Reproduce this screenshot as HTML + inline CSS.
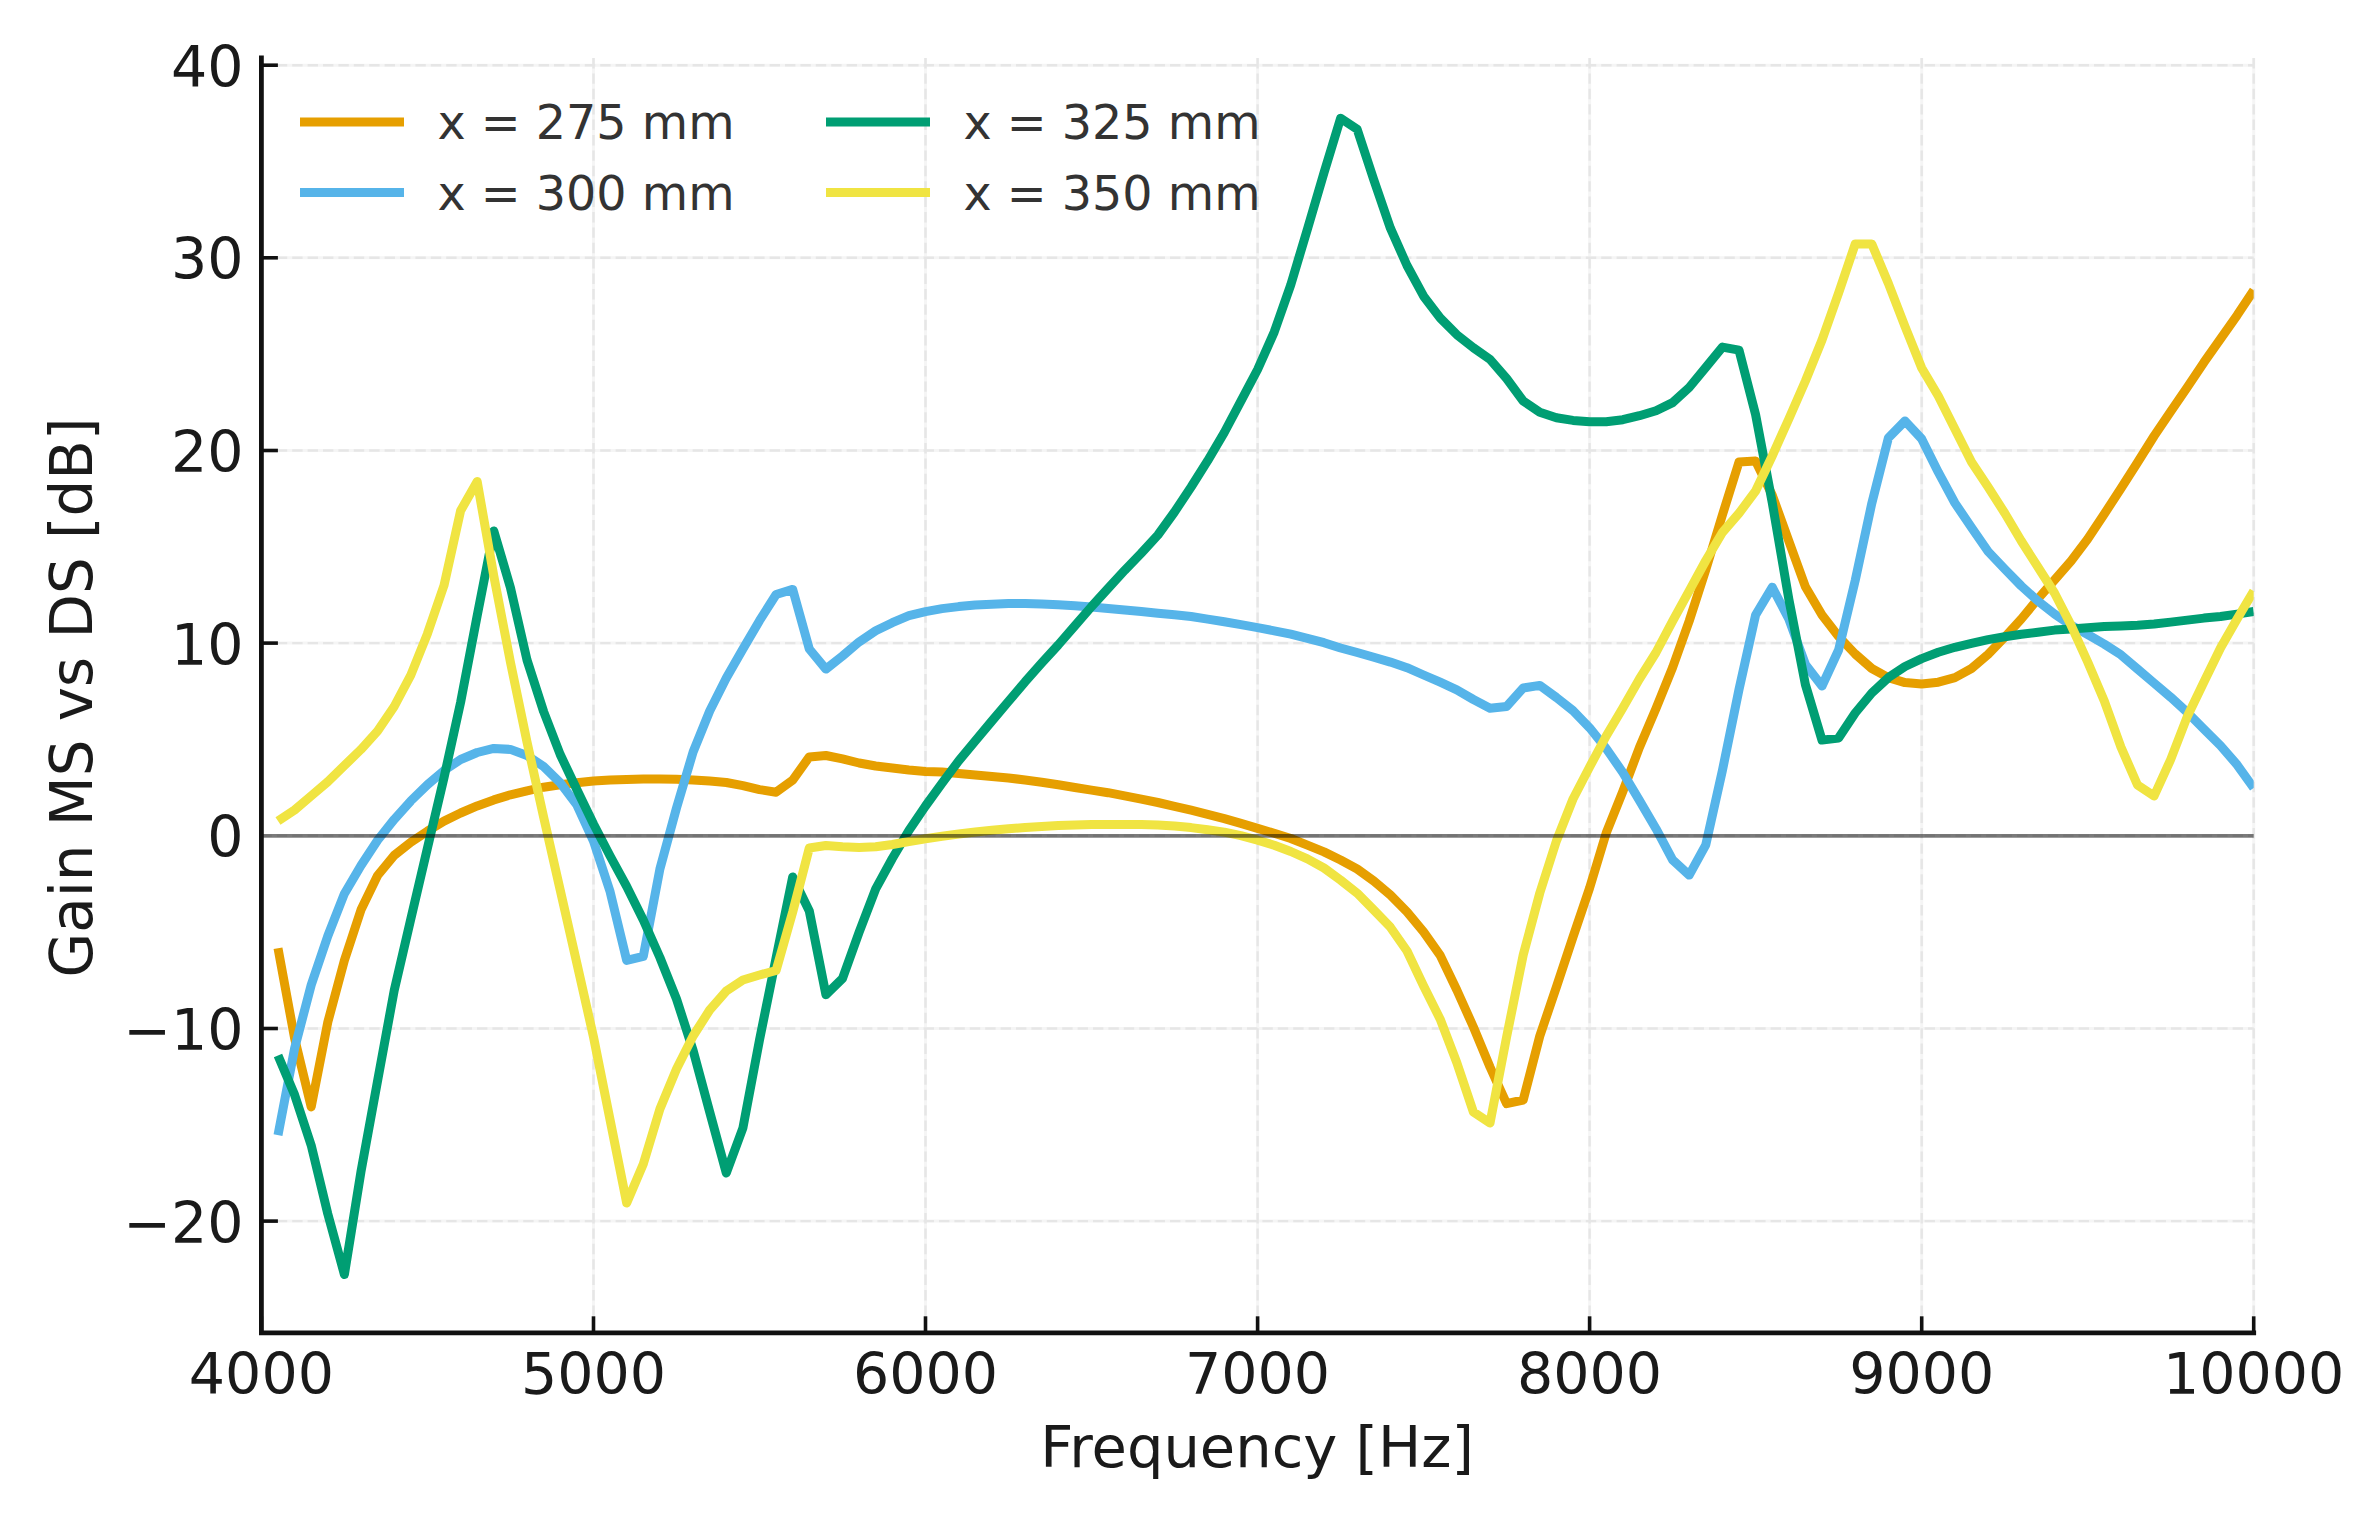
<!DOCTYPE html>
<html><head><meta charset="utf-8"><title>Gain MS vs DS</title>
<style>html,body{margin:0;padding:0;background:#fff}body{width:2379px;height:1519px;overflow:hidden}</style>
</head><body>
<svg xmlns="http://www.w3.org/2000/svg" width="2379" height="1519" viewBox="0 0 2379 1519" style="display:block">
<rect width="2379" height="1519" fill="#fff"/>
<g stroke="#f5f5f5" stroke-width="3" fill="none"><line x1="593.5" y1="58" x2="593.5" y2="1332.8"/><line x1="925.5" y1="58" x2="925.5" y2="1332.8"/><line x1="1257.6" y1="58" x2="1257.6" y2="1332.8"/><line x1="1589.6" y1="58" x2="1589.6" y2="1332.8"/><line x1="1921.7" y1="58" x2="1921.7" y2="1332.8"/><line x1="2253.7" y1="58" x2="2253.7" y2="1332.8"/><line x1="261.4" y1="1221.1" x2="2253.7" y2="1221.1"/><line x1="261.4" y1="1028.5" x2="2253.7" y2="1028.5"/><line x1="261.4" y1="835.8" x2="2253.7" y2="835.8"/><line x1="261.4" y1="643.1" x2="2253.7" y2="643.1"/><line x1="261.4" y1="450.5" x2="2253.7" y2="450.5"/><line x1="261.4" y1="257.8" x2="2253.7" y2="257.8"/><line x1="261.4" y1="65.2" x2="2253.7" y2="65.2"/></g>
<g stroke="#e6e6e6" stroke-width="2.4" stroke-dasharray="10.4 5" fill="none"><line x1="593.5" y1="58" x2="593.5" y2="1332.8"/><line x1="925.5" y1="58" x2="925.5" y2="1332.8"/><line x1="1257.6" y1="58" x2="1257.6" y2="1332.8"/><line x1="1589.6" y1="58" x2="1589.6" y2="1332.8"/><line x1="1921.7" y1="58" x2="1921.7" y2="1332.8"/><line x1="2253.7" y1="58" x2="2253.7" y2="1332.8"/><line x1="261.4" y1="1221.1" x2="2253.7" y2="1221.1"/><line x1="261.4" y1="1028.5" x2="2253.7" y2="1028.5"/><line x1="261.4" y1="835.8" x2="2253.7" y2="835.8"/><line x1="261.4" y1="643.1" x2="2253.7" y2="643.1"/><line x1="261.4" y1="450.5" x2="2253.7" y2="450.5"/><line x1="261.4" y1="257.8" x2="2253.7" y2="257.8"/><line x1="261.4" y1="65.2" x2="2253.7" y2="65.2"/></g>
<clipPath id="c"><rect x="261.4" y="58" width="1992.3" height="1274.8"/></clipPath>
<g clip-path="url(#c)" fill="none" stroke-width="9" stroke-linejoin="round" stroke-linecap="butt">
<polyline stroke="#E69F00" points="278.0,948.2 294.6,1038.3 311.2,1106.9 327.8,1022.2 344.4,960.3 361.0,909.8 377.6,875.5 394.2,855.4 410.8,842.3 427.4,831.2 444.0,821.1 460.6,813.0 477.2,805.9 493.8,799.9 510.4,794.8 527.0,790.8 543.6,787.2 560.2,784.7 576.8,782.7 593.5,781.1 610.1,780.1 626.7,779.5 643.3,779.1 659.9,779.1 676.5,779.3 693.1,779.9 709.7,781.1 726.3,782.5 742.9,785.6 759.5,789.6 776.1,792.2 792.7,780.1 809.3,756.9 825.9,755.5 842.5,758.9 859.1,763.0 875.7,766.0 892.3,768.0 908.9,770.0 925.5,771.6 942.1,772.0 958.7,773.5 975.3,775.0 991.9,776.5 1008.5,778.0 1025.1,780.0 1041.7,782.2 1058.3,784.8 1074.9,787.5 1091.5,790.1 1108.1,792.7 1124.7,795.9 1141.3,799.2 1157.9,802.5 1174.5,806.3 1191.1,810.2 1207.7,814.3 1224.3,818.6 1240.9,823.4 1257.6,828.4 1274.2,833.2 1290.8,838.5 1307.4,845.1 1324.0,851.9 1340.6,860.0 1357.2,869.0 1373.8,881.0 1390.4,895.0 1407.0,911.8 1423.6,931.8 1440.2,955.4 1456.8,990.0 1473.4,1027.0 1490.0,1067.0 1506.6,1103.6 1523.2,1100.0 1539.8,1036.0 1556.4,987.0 1573.0,937.0 1589.6,888.0 1606.2,833.0 1622.8,791.5 1639.4,747.5 1656.0,708.5 1672.6,667.5 1689.2,621.0 1705.8,569.6 1722.4,515.0 1739.0,462.0 1755.6,461.0 1772.2,495.0 1788.8,541.0 1805.4,586.8 1822.0,615.0 1838.6,636.5 1855.2,654.0 1871.8,668.5 1888.4,677.6 1905.0,682.6 1921.7,684.0 1938.3,682.2 1954.9,677.6 1971.5,668.5 1988.1,654.4 2004.7,637.2 2021.3,619.0 2037.9,598.9 2054.5,580.0 2071.1,561.0 2087.7,539.0 2104.3,514.0 2120.9,488.5 2137.5,462.5 2154.1,436.0 2170.7,411.4 2187.3,387.2 2203.9,362.4 2220.5,338.8 2237.1,315.3 2253.7,290.2"/>
<polyline stroke="#56B4E9" points="278.0,1135.2 294.6,1048.4 311.2,985.0 327.8,936.0 344.4,893.7 361.0,865.5 377.6,840.2 394.2,819.4 410.8,800.9 427.4,784.7 444.0,770.6 460.6,759.5 477.2,752.5 493.8,748.4 510.4,749.4 527.0,755.5 543.6,766.6 560.2,782.7 576.8,804.9 593.5,841.2 610.1,891.7 626.7,960.4 643.3,956.4 659.9,869.0 676.5,808.0 693.1,752.0 709.7,711.0 726.3,678.0 742.9,649.0 759.5,620.7 776.1,594.5 792.7,589.4 809.3,649.0 825.9,669.1 842.5,656.0 859.1,641.9 875.7,630.8 892.3,622.7 908.9,615.7 925.5,611.6 942.1,608.6 958.7,606.6 975.3,605.0 991.9,604.2 1008.5,603.6 1025.1,603.6 1041.7,604.0 1058.3,604.8 1074.9,605.8 1091.5,607.0 1108.1,608.4 1124.7,610.0 1141.3,611.6 1157.9,613.2 1174.5,614.8 1191.1,616.5 1207.7,619.1 1224.3,621.7 1240.9,624.6 1257.6,627.6 1274.2,630.8 1290.8,634.2 1307.4,638.3 1324.0,642.7 1340.6,648.0 1357.2,652.5 1373.8,657.3 1390.4,662.1 1407.0,667.7 1423.6,675.0 1440.2,682.2 1456.8,689.8 1473.4,699.5 1490.0,708.2 1506.6,706.6 1523.2,688.0 1539.8,685.4 1556.4,697.5 1573.0,710.6 1589.6,727.8 1606.2,748.5 1622.8,772.5 1639.4,800.4 1656.0,828.7 1672.6,859.9 1689.2,875.1 1705.8,844.8 1722.4,770.5 1739.0,689.5 1755.6,615.0 1772.2,587.2 1788.8,619.0 1805.4,664.4 1822.0,686.0 1838.6,650.0 1855.2,580.5 1871.8,503.3 1888.4,437.9 1905.0,421.0 1921.7,438.9 1938.3,472.2 1954.9,503.0 1971.5,527.5 1988.1,551.5 2004.7,569.0 2021.3,586.0 2037.9,601.0 2054.5,614.0 2071.1,625.2 2087.7,634.5 2104.3,644.1 2120.9,654.8 2137.5,669.0 2154.1,683.1 2170.7,697.2 2187.3,712.3 2203.9,729.1 2220.5,745.6 2237.1,764.8 2253.7,788.0"/>
<polyline stroke="#009E73" points="278.0,1055.5 294.6,1094.8 311.2,1145.3 327.8,1213.9 344.4,1274.5 361.0,1171.5 377.6,1080.7 394.2,990.5 410.8,918.9 427.4,848.3 444.0,777.7 460.6,702.4 477.2,615.6 493.8,530.9 510.4,587.4 527.0,660.0 543.6,711.5 560.2,754.5 576.8,789.5 593.5,824.0 610.1,856.0 626.7,886.5 643.3,920.0 659.9,957.5 676.5,999.0 693.1,1050.4 709.7,1112.0 726.3,1173.0 742.9,1128.0 759.5,1040.0 776.1,958.0 792.7,877.0 809.3,911.0 825.9,994.7 842.5,978.6 859.1,932.2 875.7,888.8 892.3,858.5 908.9,830.5 925.5,806.0 942.1,783.1 958.7,760.9 975.3,740.8 991.9,721.0 1008.5,701.4 1025.1,681.8 1041.7,663.1 1058.3,644.9 1074.9,625.8 1091.5,606.6 1108.1,588.4 1124.7,570.3 1141.3,553.1 1157.9,535.0 1174.5,512.0 1191.1,487.0 1207.7,460.7 1224.3,432.5 1240.9,401.2 1257.6,369.5 1274.2,332.1 1290.8,284.7 1307.4,229.2 1324.0,172.7 1340.6,118.2 1357.2,129.3 1373.8,179.8 1390.4,228.2 1407.0,265.5 1423.6,296.2 1440.2,318.0 1456.8,334.7 1473.4,347.7 1490.0,359.4 1506.6,378.5 1523.2,401.0 1539.8,412.3 1556.4,417.7 1573.0,420.4 1589.6,421.8 1606.2,421.8 1622.8,419.7 1639.4,415.7 1656.0,410.8 1672.6,402.6 1689.2,387.5 1705.8,367.3 1722.4,347.1 1739.0,350.1 1755.6,414.7 1772.2,502.3 1788.8,599.0 1805.4,684.6 1822.0,740.1 1838.6,738.1 1855.2,713.0 1871.8,693.0 1888.4,677.6 1905.0,666.5 1921.7,658.6 1938.3,652.3 1954.9,647.3 1971.5,643.3 1988.1,639.6 2004.7,636.8 2021.3,634.2 2037.9,632.2 2054.5,630.1 2071.1,629.1 2087.7,627.8 2104.3,626.5 2120.9,626.0 2137.5,625.2 2154.1,624.0 2170.7,622.1 2187.3,620.1 2203.9,618.1 2220.5,616.5 2237.1,614.1 2253.7,611.5"/>
<polyline stroke="#F0E442" points="278.0,821.1 294.6,810.0 311.2,795.8 327.8,781.7 344.4,765.6 361.0,749.4 377.6,731.0 394.2,706.5 410.8,675.2 427.4,633.8 444.0,585.4 460.6,510.7 477.2,481.5 493.8,576.0 510.4,662.0 527.0,742.0 543.6,817.0 560.2,890.0 576.8,963.0 593.5,1037.0 610.1,1120.0 626.7,1203.0 643.3,1164.0 659.9,1109.0 676.5,1069.0 693.1,1036.0 709.7,1010.0 726.3,991.0 742.9,980.0 759.5,975.0 776.1,970.5 792.7,912.0 809.3,848.0 825.9,845.5 842.5,846.8 859.1,847.4 875.7,846.8 892.3,844.5 908.9,841.5 925.5,838.7 942.1,836.3 958.7,834.0 975.3,832.0 991.9,830.3 1008.5,828.8 1025.1,827.5 1041.7,826.4 1058.3,825.6 1074.9,825.0 1091.5,824.6 1108.1,824.4 1124.7,824.4 1141.3,824.6 1157.9,825.0 1174.5,826.0 1191.1,827.6 1207.7,829.7 1224.3,832.1 1240.9,835.7 1257.6,840.2 1274.2,845.2 1290.8,851.5 1307.4,858.9 1324.0,868.0 1340.6,880.1 1357.2,893.2 1373.8,910.0 1390.4,927.2 1407.0,951.0 1423.6,986.0 1440.2,1019.2 1456.8,1062.6 1473.4,1112.0 1490.0,1123.1 1506.6,1037.0 1523.2,955.0 1539.8,893.0 1556.4,841.0 1573.0,799.0 1589.6,767.0 1606.2,736.0 1622.8,708.0 1639.4,679.0 1656.0,652.5 1672.6,621.1 1689.2,590.8 1705.8,560.5 1722.4,532.5 1739.0,513.3 1755.6,491.0 1772.2,456.0 1788.8,419.0 1805.4,381.0 1822.0,340.0 1838.6,293.0 1855.2,244.0 1871.8,244.0 1888.4,283.5 1905.0,326.5 1921.7,368.0 1938.3,396.0 1954.9,429.0 1971.5,462.0 1988.1,487.0 2004.7,513.0 2021.3,541.0 2037.9,567.0 2054.5,593.0 2071.1,625.3 2087.7,662.0 2104.3,701.0 2120.9,747.0 2137.5,785.0 2154.1,796.0 2170.7,759.5 2187.3,716.5 2203.9,682.0 2220.5,648.0 2237.1,619.0 2253.7,591.0"/>
</g>
<g stroke="#111" stroke-width="3.6"><line x1="261.4" y1="1332.8" x2="261.4" y2="1316.3"/><line x1="593.5" y1="1332.8" x2="593.5" y2="1316.3"/><line x1="925.5" y1="1332.8" x2="925.5" y2="1316.3"/><line x1="1257.6" y1="1332.8" x2="1257.6" y2="1316.3"/><line x1="1589.6" y1="1332.8" x2="1589.6" y2="1316.3"/><line x1="1921.7" y1="1332.8" x2="1921.7" y2="1316.3"/><line x1="2253.7" y1="1332.8" x2="2253.7" y2="1316.3"/><line x1="261.4" y1="1221.1" x2="277.9" y2="1221.1"/><line x1="261.4" y1="1028.5" x2="277.9" y2="1028.5"/><line x1="261.4" y1="643.1" x2="277.9" y2="643.1"/><line x1="261.4" y1="450.5" x2="277.9" y2="450.5"/><line x1="261.4" y1="257.8" x2="277.9" y2="257.8"/><line x1="261.4" y1="65.2" x2="277.9" y2="65.2"/></g>
<line x1="261.4" y1="835.8" x2="2253.7" y2="835.8" stroke="#000" stroke-opacity="0.5" stroke-width="3.7"/>
<path d="M261.4 58 V1332.8 H2253.7" fill="none" stroke="#111" stroke-width="4.8" stroke-linecap="square"/>
<g font-family="'DejaVu Sans','Liberation Sans',sans-serif" font-size="57" fill="#1a1a1a">
<text x="261.4" y="1394" text-anchor="middle">4000</text>
<text x="593.5" y="1394" text-anchor="middle">5000</text>
<text x="925.5" y="1394" text-anchor="middle">6000</text>
<text x="1257.6" y="1394" text-anchor="middle">7000</text>
<text x="1589.6" y="1394" text-anchor="middle">8000</text>
<text x="1921.7" y="1394" text-anchor="middle">9000</text>
<text x="2253.7" y="1394" text-anchor="middle">10000</text>
<text x="243.5" y="1242.7" text-anchor="end">−20</text>
<text x="243.5" y="1050.0" text-anchor="end">−10</text>
<text x="243.5" y="857.4" text-anchor="end">0</text>
<text x="243.5" y="664.8" text-anchor="end">10</text>
<text x="243.5" y="472.1" text-anchor="end">20</text>
<text x="243.5" y="279.4" text-anchor="end">30</text>
<text x="243.5" y="86.8" text-anchor="end">40</text>
<text x="1257.1" y="1467" text-anchor="middle" font-size="57.5">Frequency [Hz]</text>
<text transform="translate(92.3 697.5) rotate(-90)" text-anchor="middle" font-size="57.8">Gain MS vs DS [dB]</text>
</g>
<g font-family="'DejaVu Sans','Liberation Sans',sans-serif" font-size="47.6" fill="#333">
<line x1="300" y1="122.1" x2="404" y2="122.1" stroke="#E69F00" stroke-width="9"/>
<text x="437.5" y="139.3">x = 275 mm</text>
<line x1="300" y1="192.5" x2="404" y2="192.5" stroke="#56B4E9" stroke-width="9"/>
<text x="437.5" y="209.7">x = 300 mm</text>
<line x1="826" y1="122.1" x2="930" y2="122.1" stroke="#009E73" stroke-width="9"/>
<text x="963.5" y="139.3">x = 325 mm</text>
<line x1="826" y1="192.5" x2="930" y2="192.5" stroke="#F0E442" stroke-width="9"/>
<text x="963.5" y="209.7">x = 350 mm</text>
</g>
</svg>
</body></html>
